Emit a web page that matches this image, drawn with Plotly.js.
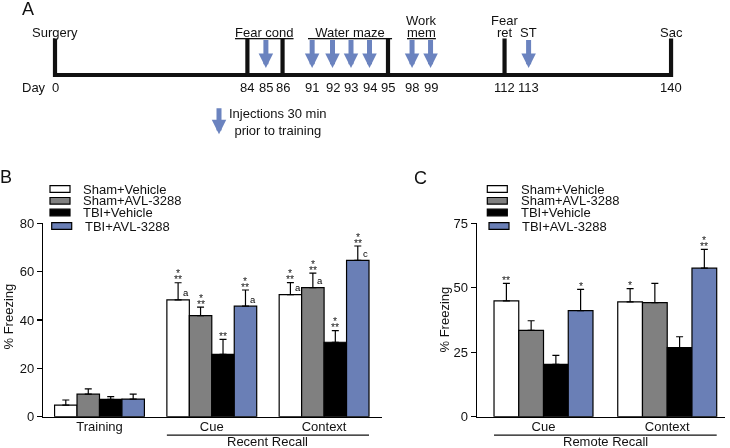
<!DOCTYPE html>
<html><head><meta charset="utf-8">
<script src="https://cdn.plot.ly/plotly-3.0.1.min.js"></script>
<style>html,body{margin:0;padding:0;background:#fff} #chart{will-change:transform}</style>
</head><body><div id="chart" style="width:730px;height:448px"></div>
<script>
// ---------------- DATA ----------------
const seriesNames = ['Sham+Vehicle', 'Sham+AVL-3288', 'TBI+Vehicle', 'TBI+AVL-3288'];

// Panel B: recent recall
const recentCategories = ['Training', 'Cue', 'Context'];
const recentShamVeh    = [4.8, 48.3, 50.5];
const recentShamVehErr = [2.1, 7.1, 5.0];
const recentShamAvl    = [9.3, 41.8, 53.4];
const recentShamAvlErr = [2.2, 3.5, 6.0];
const recentTbiVeh     = [7.2, 25.8, 30.8];
const recentTbiVehErr  = [1.1, 6.2, 4.8];
const recentTbiAvl     = [7.3, 45.7, 64.7];
const recentTbiAvlErr  = [2.0, 6.7, 5.9];
// significance marks ('*/**' = one star above two stars)
const recentSigShamVeh = ['', '*/**', '*/**'];
const recentSigShamAvl = ['', '*/**', '*/**'];
const recentSigTbiVeh  = ['', '**', '*/**'];
const recentSigTbiAvl  = ['', '*/**', '*/**'];
const recentLetterShamVeh = ['', 'a', 'a'];
const recentLetterShamAvl = ['', '', 'a'];
const recentLetterTbiVeh  = ['', '', ''];
const recentLetterTbiAvl  = ['', 'a', 'c'];

// Panel C: remote recall
const remoteCategories = ['Cue', 'Context'];
const remoteShamVeh    = [44.9, 44.5];
const remoteShamVehErr = [6.8, 5.2];
const remoteShamAvl    = [33.5, 44.2];
const remoteShamAvlErr = [3.7, 7.5];
const remoteTbiVeh     = [20.3, 26.8];
const remoteTbiVehErr  = [3.5, 4.2];
const remoteTbiAvl     = [41.1, 57.6];
const remoteTbiAvlErr  = [8.3, 7.3];
const remoteSigShamVeh = ['**', '*'];
const remoteSigShamAvl = ['', ''];
const remoteSigTbiVeh  = ['', ''];
const remoteSigTbiAvl  = ['*', '*/**'];

// Panel A: timeline
const timelineDays   = [0, 84, 85, 86, 91, 92, 93, 94, 95, 98, 99, 112, 113, 140];
const markerDays     = [0, 84, 86, 95, 112, 140];
const injectionDays  = [85, 91, 92, 93, 94, 98, 99, 113];
const eventLabels    = ['Surgery', 'Fear cond', 'Water maze', 'Work|mem', 'Fear|ret', 'ST', 'Sac'];
const eventStartDays = [0, 84, 91, 98, 112, 113, 140];
const eventEndDays   = [0, 86, 95, 99, 112, 113, 140];
const eventUnderline = [false, true, true, true, false, false, false];

// ---------------- STYLE / LAYOUT ----------------
const FONT = 'Liberation Sans, Arial, sans-serif';
const BLUE = '#6a7fb6';
const ARROW_BLUE = '#6b83bf';
const FILLS = ['#ffffff', '#808080', '#000000', BLUE];
const W = 730, H = 448;
const PX = x => x / W, PY = y => 1 - y / H;
// compressed (not-to-scale) timeline slot for each day, as drawn in the figure
const TIMELINE_SLOT = {0:0, 84:10.4, 85:11.4, 86:12.3, 91:13.9, 92:15.0, 93:16.0, 94:17.0, 95:18.0,
                       98:19.3, 99:20.3, 112:24.3, 113:25.6, 140:33.3};
const slot = d => TIMELINE_SLOT[d];
const LINE_Y = 75, BAR_TOP = 38.5, BAR_BOT = 77, ARROW_END = 68, LABEL_Y = 32, DAY_Y = 87.5;
const BARGAP = 0.2, NSER = 4, BW = (1 - BARGAP) / NSER;
// tight star stacking: small base size sets the line pitch, spans carry the glyph size
const STAR_FONT = {family: FONT, size: 4.6, color: '#222'};
const starSpan = s => '<span style="font-size:10.5px">' + s + '</span>';

const traces = [];
const annotations = [];
const shapes = [];

function addBars(cats, vals, errs, xa, ya) {
  vals.forEach((v, s) => {
    traces.push({
      type: 'bar', name: seriesNames[s], x: cats, y: v, xaxis: xa, yaxis: ya, showlegend: false,
      marker: {color: FILLS[s], line: {color: '#000', width: 1.2}},
      error_y: {type: 'data', symmetric: false, array: errs[s], arrayminus: errs[s].map(() => 0),
                color: '#000', thickness: 1.2, width: 3.5},
      hoverinfo: 'skip'
    });
  });
}
function addMarks(cats, vals, errs, sigs, letters, xref, yref) {
  vals.forEach((v, s) => {
    cats.forEach((c, i) => {
      const xc = i + (s - (NSER - 1) / 2) * BW;
      const top = v[i] + errs[s][i];
      const sig = sigs[s][i];
      if (sig) {
        const text = sig.split('/').map(starSpan).join('<br>');
        annotations.push({xref, yref, x: xc, y: top, text, showarrow: false, xanchor: 'center', yanchor: 'bottom',
          yshift: -4.5, borderpad: 1, font: STAR_FONT});
      }
      if (letters && letters[s][i]) {
        annotations.push({xref, yref, x: xc, y: v[i], text: letters[s][i], showarrow: false, xanchor: 'center',
          yanchor: 'bottom', xshift: 7.5, yshift: -0.5, font: {family: FONT, size: 9.5, color: '#000'}});
      }
    });
  });
}

addBars(recentCategories, [recentShamVeh, recentShamAvl, recentTbiVeh, recentTbiAvl],
  [recentShamVehErr, recentShamAvlErr, recentTbiVehErr, recentTbiAvlErr], 'x', 'y');
addMarks(recentCategories, [recentShamVeh, recentShamAvl, recentTbiVeh, recentTbiAvl],
  [recentShamVehErr, recentShamAvlErr, recentTbiVehErr, recentTbiAvlErr],
  [recentSigShamVeh, recentSigShamAvl, recentSigTbiVeh, recentSigTbiAvl],
  [recentLetterShamVeh, recentLetterShamAvl, recentLetterTbiVeh, recentLetterTbiAvl], 'x', 'y');

addBars(remoteCategories, [remoteShamVeh, remoteShamAvl, remoteTbiVeh, remoteTbiAvl],
  [remoteShamVehErr, remoteShamAvlErr, remoteTbiVehErr, remoteTbiAvlErr], 'x2', 'y2');
addMarks(remoteCategories, [remoteShamVeh, remoteShamAvl, remoteTbiVeh, remoteTbiAvl],
  [remoteShamVehErr, remoteShamAvlErr, remoteTbiVehErr, remoteTbiAvlErr],
  [remoteSigShamVeh, remoteSigShamAvl, remoteSigTbiVeh, remoteSigTbiAvl], null, 'x2', 'y2');

// ---- Timeline (panel A) ----
traces.push({type: 'scatter', mode: 'lines', xaxis: 'x3', yaxis: 'y3', hoverinfo: 'skip', showlegend: false,
  x: [slot(timelineDays[0]), slot(timelineDays[timelineDays.length - 1])], y: [LINE_Y, LINE_Y],
  line: {color: '#111', width: 4}});
const mx = [], my = [];
markerDays.forEach(d => { mx.push(slot(d), slot(d), null); my.push(BAR_TOP, BAR_BOT, null); });
traces.push({type: 'scatter', mode: 'lines', xaxis: 'x3', yaxis: 'y3', hoverinfo: 'skip', showlegend: false,
  x: mx, y: my, line: {color: '#111', width: 4.2}});
injectionDays.forEach(d => {
  annotations.push({xref: 'x3', yref: 'y3', x: slot(d), y: ARROW_END, ax: 0, ay: -(ARROW_END - BAR_TOP),
    text: '', showarrow: true, arrowhead: 2, arrowsize: 0.58, arrowwidth: 5, arrowcolor: ARROW_BLUE,
    standoff: 0, startstandoff: 0});
});
const T13 = {family: FONT, size: 13, color: '#111'};
timelineDays.forEach(d => {
  annotations.push({xref: 'x3', yref: 'y3', x: slot(d), y: DAY_Y, text: String(d), showarrow: false,
    xanchor: 'center', yanchor: 'middle', font: T13});
});
annotations.push({xref: 'paper', yref: 'y3', x: PX(33.5), y: DAY_Y, text: 'Day', showarrow: false,
  xanchor: 'center', yanchor: 'middle', font: T13});
eventLabels.forEach((lab, i) => {
  const xc = (slot(eventStartDays[i]) + slot(eventEndDays[i])) / 2;
  const lines = lab.split('|');
  lines.forEach((ln, k) => {
    const last = k === lines.length - 1;
    let t = ln;
    if (eventUnderline[i] && last) t = '<u>' + (lab === 'Water maze' ? '\u00a0\u00a0' + ln + '\u00a0\u00a0' : ln) + '</u>';
    annotations.push({xref: 'x3', yref: 'y3', x: xc, y: LABEL_Y - (lines.length - 1 - k) * 12, text: t,
      showarrow: false, xanchor: 'center', yanchor: 'middle', font: T13});
  });
});
// injection key
annotations.push({xref: 'paper', yref: 'y3', x: PX(219), y: 134.2, ax: 0, ay: -27.5, text: '',
  showarrow: true, arrowhead: 2, arrowsize: 0.58, arrowwidth: 5, arrowcolor: ARROW_BLUE, standoff: 0});
annotations.push({xref: 'paper', yref: 'y3', x: PX(278), y: 122, text: 'Injections 30 min<br>prior to training',
  showarrow: false, align: 'center', xanchor: 'center', yanchor: 'middle', font: T13});

// ---- panel letters, titles, group labels ----
const txt = (x, y, text, size, extra) => Object.assign({xref: 'paper', yref: 'paper', x: PX(x), y: PY(y), text,
  showarrow: false, xanchor: 'center', yanchor: 'middle', font: {family: FONT, size, color: '#111'}}, extra || {});
annotations.push(txt(28, 9, 'A', 18));
annotations.push(txt(6, 177, 'B', 18));
annotations.push(txt(420, 178, 'C', 18));
annotations.push(txt(7.5, 317, '% Freezing', 13, {textangle: -90}));
annotations.push(txt(443.5, 320, '% Freezing', 13, {textangle: -90}));
annotations.push({xref: 'x', yref: 'paper', x: 1.5, y: PY(441.8), text: 'Recent Recall', showarrow: false,
  xanchor: 'center', yanchor: 'middle', font: T13});
annotations.push({xref: 'x2', yref: 'paper', x: 0.5, y: PY(441.8), text: 'Remote Recall', showarrow: false,
  xanchor: 'center', yanchor: 'middle', font: T13});
shapes.push({type: 'line', xref: 'x', yref: 'paper', x0: 1 - 0.4, x1: 2 + 0.4, y0: PY(435.2), y1: PY(435.2),
  line: {color: '#111', width: 1.2}});
shapes.push({type: 'line', xref: 'x2', yref: 'paper', x0: 0 - 0.4, x1: 1 + 0.4, y0: PY(435.2), y1: PY(435.2),
  line: {color: '#111', width: 1.2}});

// ---- manual legends ----
const LEG_ROWS = [189, 200.8, 212.5, 226];
function addLegend(boxX, textX) {
  seriesNames.forEach((n, s) => {
    const dx = s === 3 ? 1.7 : 0;
    const yc = LEG_ROWS[s];
    shapes.push({type: 'rect', xref: 'paper', yref: 'paper', x0: PX(boxX + dx), x1: PX(boxX + dx + 20),
      y0: PY(yc - 3.3), y1: PY(yc + 3.3), fillcolor: FILLS[s], line: {color: '#000', width: 1.2}});
    annotations.push({xref: 'paper', yref: 'paper', x: PX(textX + dx), y: PY(yc), xanchor: 'left', yanchor: 'middle',
      text: n, showarrow: false, font: T13});
  });
}
addLegend(50, 81);
addLegend(487.3, 518.5);

const yAx = (dom, range, dtick, anchor) => ({domain: dom, range, dtick, anchor, showline: true, linecolor: '#000',
  linewidth: 1.2, ticks: 'outside', ticklen: 5, tickwidth: 1.2, tickcolor: '#000', showgrid: false, zeroline: false,
  tickfont: {family: FONT, size: 13, color: '#111'}, fixedrange: true});
const xAx = (dom, range, anchor) => ({domain: dom, range, anchor, type: 'category', showline: true, linecolor: '#000',
  linewidth: 1.2, ticks: '', showgrid: false, zeroline: false, tickfont: {family: FONT, size: 13, color: '#111'},
  ticklabelstandoff: -3, fixedrange: true});

const plotBottom = PY(416.7), plotTop = PY(223.3);
const layout = {
  width: W, height: H, margin: {l: 0, r: 0, t: 0, b: 0}, paper_bgcolor: '#fff', plot_bgcolor: 'rgba(0,0,0,0)',
  barmode: 'group', bargap: BARGAP, bargroupgap: 0, showlegend: false,
  font: {family: FONT, size: 13, color: '#111'},
  xaxis: xAx([PX(43), PX(381.7)], [-0.503, 2.513], 'y'),
  yaxis: yAx([plotBottom, plotTop], [0, 80], 20, 'x'),
  xaxis2: xAx([PX(476.7), PX(725)], [-0.54, 1.467], 'y2'),
  yaxis2: yAx([plotBottom, plotTop], [0, 75], 25, 'x2'),
  xaxis3: {domain: [0, 1], range: [-55 / 18.5, (W - 55) / 18.5], anchor: 'y3', visible: false, fixedrange: true},
  yaxis3: {domain: [PY(150), 1], range: [150, 0], anchor: 'x3', visible: false, fixedrange: true},
  annotations, shapes
};
Plotly.newPlot('chart', traces, layout, {displayModeBar: false, staticPlot: true});
</script></body></html>
